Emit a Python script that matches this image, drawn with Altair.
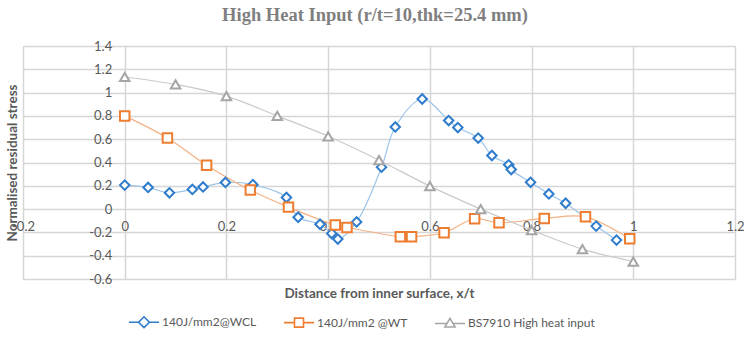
import altair as alt
import pandas as pd

title_text = "High Heat Input (r/t=10,thk=25.4 mm)"
x_title = "Distance from inner surface, x/t"
y_title = "Normalised residual stress"
series_names = ["140J/mm2@WCL", "140J/mm2 @WT", "BS7910 High heat input"]

wcl_x = [0, 0.046, 0.088, 0.133, 0.154, 0.198, 0.252, 0.318, 0.341, 0.384, 0.407,
         0.419, 0.456, 0.505, 0.532, 0.585, 0.637, 0.655, 0.695, 0.722, 0.755, 0.76,
         0.798, 0.834, 0.867, 0.927, 0.967]
wcl_y = [0.206, 0.186, 0.14, 0.169, 0.19, 0.229, 0.21, 0.10, -0.07, -0.13, -0.21,
         -0.257, -0.11, 0.36, 0.705, 0.945, 0.76, 0.70, 0.61, 0.46, 0.38, 0.34,
         0.23, 0.13, 0.05, -0.146, -0.266]

wt_x = [0, 0.084, 0.161, 0.247, 0.322, 0.414, 0.437, 0.542, 0.564, 0.628, 0.688,
        0.736, 0.825, 0.906, 0.993]
wt_y = [0.80, 0.61, 0.377, 0.163, 0.017, -0.137, -0.157, -0.237, -0.237, -0.203,
        -0.083, -0.117, -0.08, -0.066, -0.254]

bs_x = [0, 0.1, 0.2, 0.3, 0.4, 0.5, 0.6, 0.7, 0.8, 0.9, 1.0]
bs_y = [1.134, 1.07, 0.97, 0.80, 0.625, 0.42, 0.197, 0.0, -0.18, -0.343, -0.45]

x_ticks = [-0.2, 0, 0.2, 0.4, 0.6, 0.8, 1, 1.2]
y_ticks = [-0.6, -0.4, -0.2, 0, 0.2, 0.4, 0.6, 0.8, 1, 1.2, 1.4]

marker_colors = ["#2f7ccc", "#ed7d31", "#a5a5a5"]
line_colors = ["#9cc3e8", "#f4b183", "#c9c9c9"]
marker_shapes = ["diamond", "square", "triangle-up"]
legend_paths = [
    "M-1,0L-0.36,0M0.36,0L1,0M0,-0.36L0.36,0L0,0.36L-0.36,0Z",
    "M-1,0L-0.3,0M0.3,0L1,0M-0.3,-0.3L0.3,-0.3L0.3,0.3L-0.3,0.3Z",
    "M-1,0.05L-0.2,0.05M0.2,0.05L1,0.05M0,-0.3L0.34,0.28L-0.34,0.28Z",
]

rows = []
for name, xs, ys in zip(series_names, [wcl_x, wt_x, bs_x], [wcl_y, wt_y, bs_y]):
    for i, (xv, yv) in enumerate(zip(xs, ys)):
        rows.append({"series": name, "x": xv, "y": yv, "order": i})
df = pd.DataFrame(rows)

W, H = 712, 233
xmin, xmax = -0.2, 1.2
ymin, ymax = -0.6, 1.4

label_font = "Lato"
text_color = "#595959"

x_enc = alt.X(
    "x:Q",
    scale=alt.Scale(domain=[xmin, xmax], nice=False, zero=False),
    axis=alt.Axis(
        values=x_ticks, labelExpr="'' + datum.value", orient="bottom",
        offset=-H * (0 - ymin) / (ymax - ymin), domain=False, ticks=False,
        grid=True, gridColor="#d6d6d6", gridWidth=1.5,
        labelPadding=11, labelFont=label_font, labelFontSize=13, labelColor=text_color,
        labelFlush=False, labelBound=False, labelOverlap=False,
        title=x_title, titleFont=label_font, titleFontSize=13.5, titleFontWeight="bold",
        titleColor=text_color, titleY=84, titleBaseline="middle",
    ),
)
y_enc = alt.Y(
    "y:Q",
    scale=alt.Scale(domain=[ymin, ymax], nice=False, zero=False),
    axis=alt.Axis(
        values=y_ticks, labelExpr="'' + datum.value", orient="left",
        offset=-W * (0 - xmin) / (xmax - xmin), domain=False, ticks=False,
        grid=True, gridColor="#d6d6d6", gridWidth=1.5,
        labelPadding=13, labelFont=label_font, labelFontSize=13, labelColor=text_color,
        labelFlush=False, labelBound=False, labelOverlap=False,
        title=y_title, titleFont=label_font, titleFontSize=13.5, titleFontWeight="bold",
        titleColor=text_color, titleX=-112, titleY=H / 2, titleAngle=270,
        titleBaseline="middle",
    ),
)

base = alt.Chart(df)

lines = base.mark_line(interpolate="catmull-rom", strokeWidth=1.2).encode(
    x=x_enc, y=y_enc,
    stroke=alt.Stroke("series:N", scale=alt.Scale(domain=series_names, range=line_colors), legend=None),
    order="order:Q",
)

points = base.mark_point(fill="white", filled=False, fillOpacity=1, opacity=1,
                         strokeWidth=2, size=90).encode(
    x=x_enc, y=y_enc,
    color=alt.Color("series:N", scale=alt.Scale(domain=series_names, range=marker_colors), legend=None),
    shape=alt.Shape("series:N", scale=alt.Scale(domain=series_names, range=marker_shapes), legend=None),
)

legend_layer = base.transform_filter("false").mark_point(
    fill="white", filled=False, fillOpacity=1, opacity=1, strokeWidth=1.6
).encode(
    x=x_enc, y=y_enc,
    color=alt.Color(
        "series:N",
        scale=alt.Scale(domain=series_names, range=marker_colors),
        legend=alt.Legend(
            title=None, orient="none", direction="horizontal",
            legendX=105, legendY=260, columnPadding=23, labelOffset=2,
            labelFont=label_font, labelFontSize=12, labelColor=text_color,
            symbolSize=900, symbolStrokeWidth=1.6, symbolFillColor="white",
            symbolOpacity=1,
        ),
    ),
    shape=alt.Shape("series:N", scale=alt.Scale(domain=series_names, range=legend_paths)),
)

chart = alt.layer(lines, points, legend_layer).resolve_scale(
    color="independent", shape="independent"
).properties(
    width=W, height=H,
    title=alt.TitleParams(
        title_text, font="Liberation Serif", fontSize=18.5, fontWeight="bold",
        color="#7f7f7f", anchor="middle", frame="group", dx=-4, offset=16,
    ),
    autosize=alt.AutoSizeParams(type="none"),
    padding={"left": 23, "top": 46, "right": 9, "bottom": 65},
).configure_view(fill="#efefef", stroke=None).configure(background="white")

chart.save("out.html", embed_options={"renderer": "svg", "actions": False})
